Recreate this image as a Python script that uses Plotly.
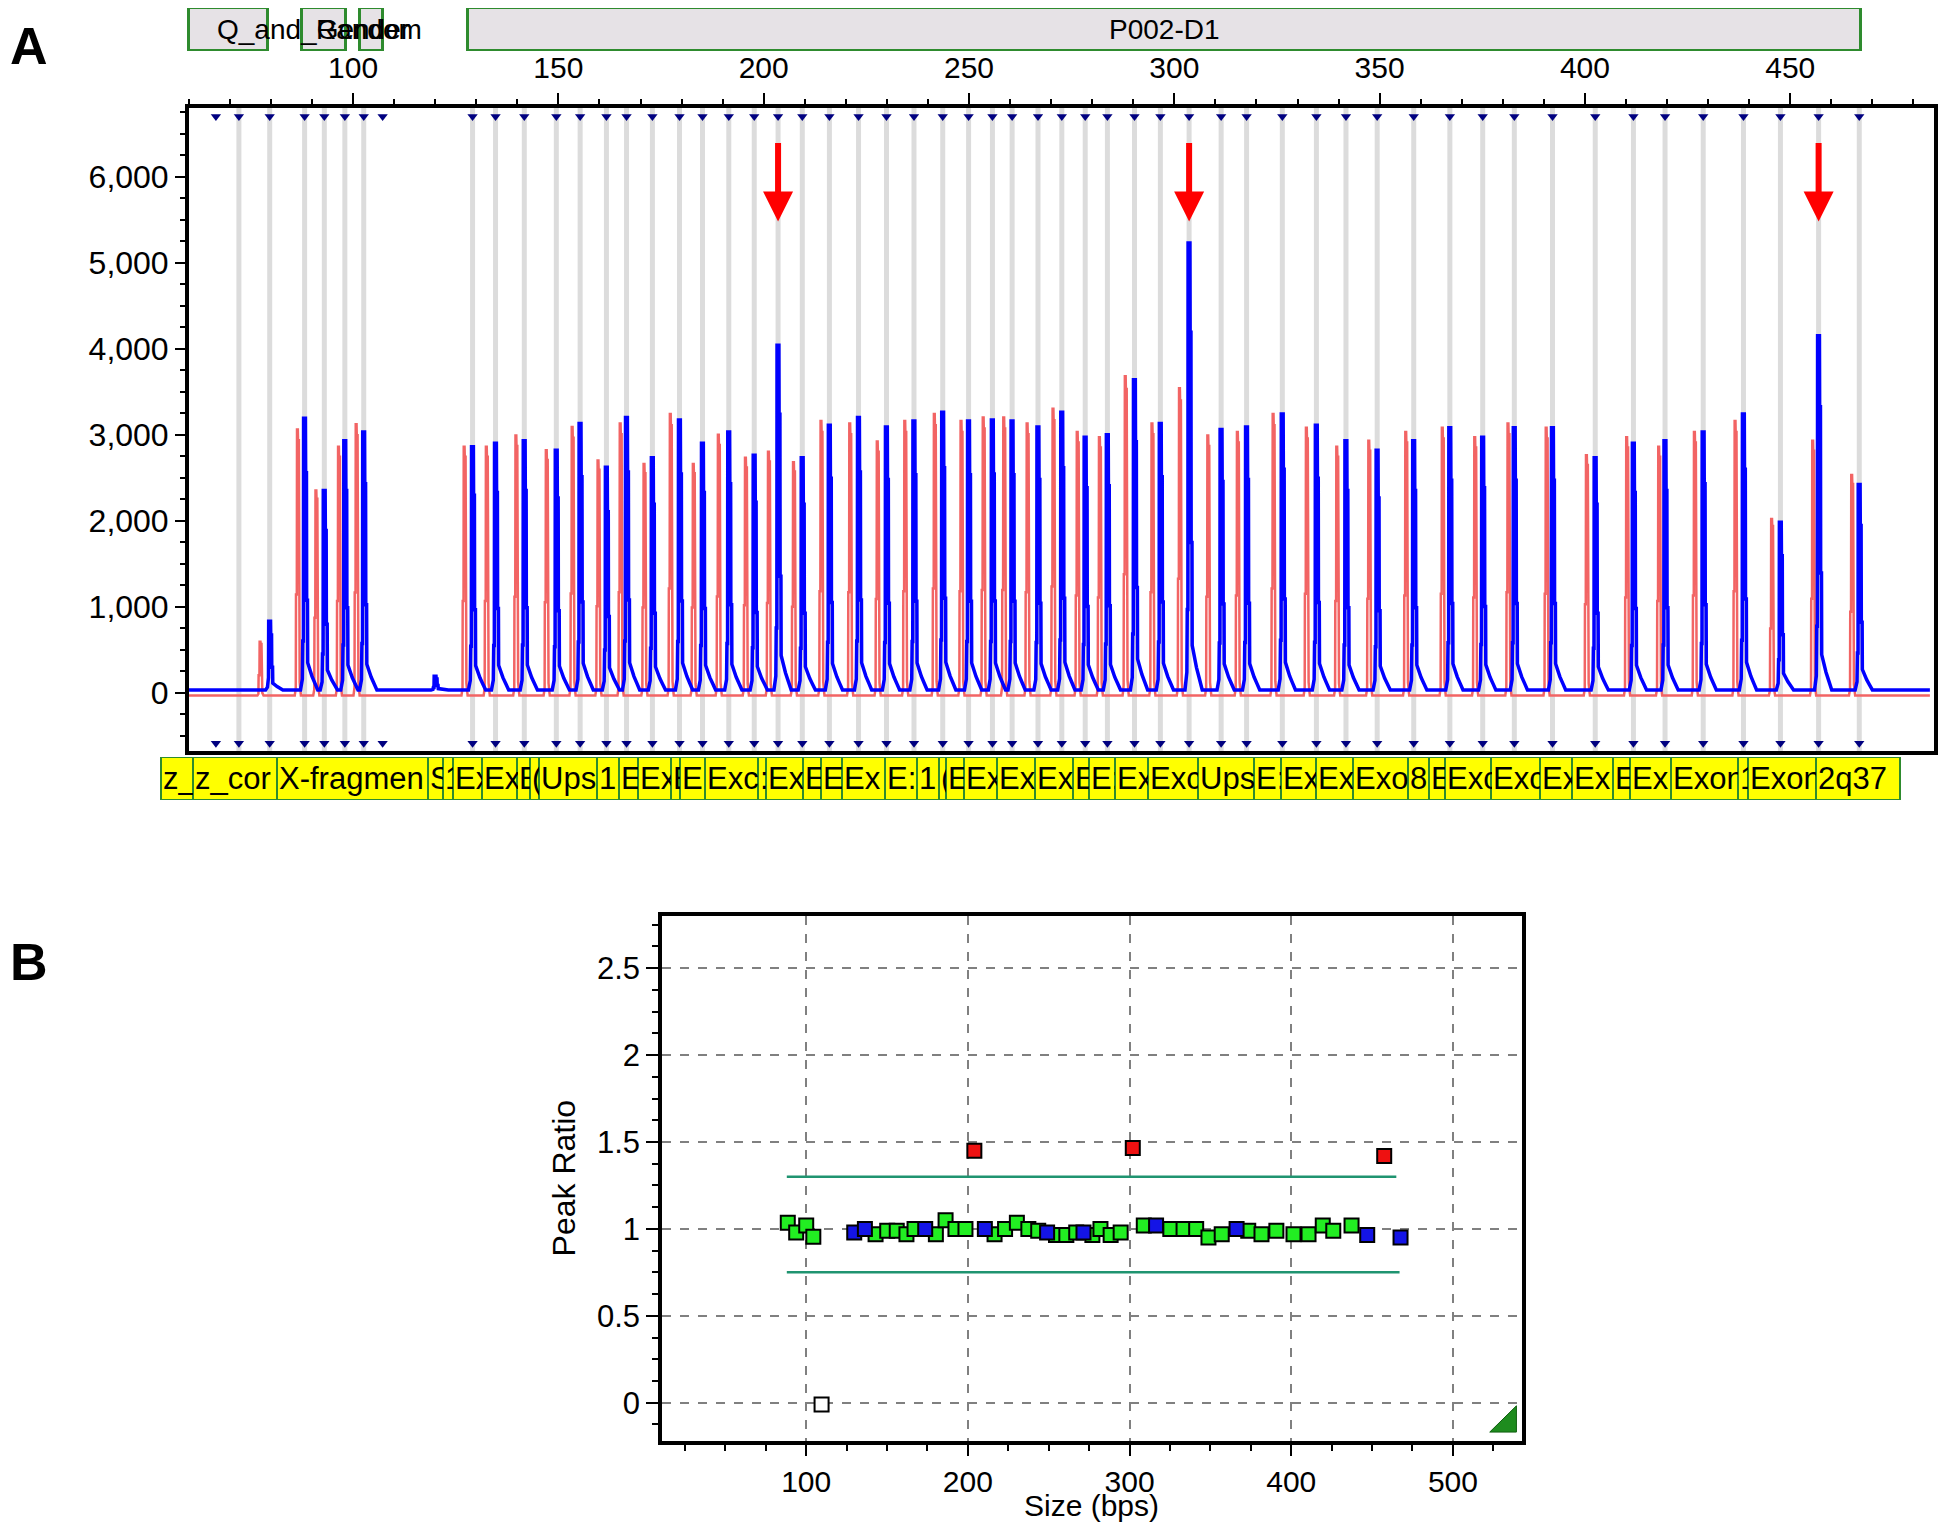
import plotly.graph_objects as go

W, H = 1946, 1531          # browser window
OFF = 8                    # default page margin around the figure
WF, HF = W - 2 * OFF, H - 2 * OFF
FONT = "Liberation Sans, Arial, sans-serif"

# ---------------- Panel A: electropherogram data (size in bp, height in RFU) ----------------
blue_bp = [79.7, 88.2, 93.0, 98.0, 102.6,
           129.1, 134.7, 141.7, 149.5, 155.3, 161.7, 166.6, 172.9, 179.5, 185.1, 191.5,
           197.7, 203.5, 209.4, 216.0, 223.1, 229.9, 236.6, 243.6, 249.9, 255.7, 260.5,
           266.8, 272.6, 278.3, 283.7, 290.3, 296.6, 303.6, 311.4, 317.6, 326.3,
           334.6, 341.8, 349.4, 358.3, 367.1, 375.1, 382.8, 392.1, 402.5, 411.8, 419.5,
           428.8, 438.6, 447.6, 456.9, 466.8]
blue_rfu = [830, 3190, 2350, 2930, 3030,
            2860, 2900, 2930, 2820, 3130, 2620, 3200, 2730, 3170, 2900, 3030,
            2760, 4040, 2730, 3110, 3200, 3090, 3160, 3260, 3160, 3170, 3160,
            3090, 3260, 2970, 3000, 3640, 3130, 5230, 3060, 3090, 3240,
            3110, 2930, 2820, 2930, 3080, 2970, 3080, 3080, 2730, 2900, 2930,
            3030, 3240, 1980, 4150, 2420]
red_bp = [77.4, 86.5, 91.0, 96.5, 100.8,
          127.1, 132.5, 139.7, 147.1, 153.4, 159.7, 165.1, 170.9, 177.3, 182.9, 189.0,
          195.6, 201.2, 207.3, 214.0, 221.0, 227.7, 234.4, 241.6, 248.1, 253.5, 258.5,
          264.2, 270.5, 276.4, 281.8, 288.1, 294.6, 301.3, 308.2, 315.4, 324.1,
          332.2, 339.6, 347.4, 356.4, 365.3, 373.2, 381.3, 390.6, 400.4, 410.2, 418.0,
          426.7, 436.6, 445.5, 455.5, 465.0]
red_rfu = [590, 3060, 2350, 2860, 3120,
           2860, 2860, 2990, 2820, 3090, 2700, 3130, 2660, 3240, 2660, 3000,
           2730, 2800, 2680, 3160, 3130, 2920, 3160, 3240, 3160, 3200, 3200,
           3130, 3300, 3030, 2970, 3680, 3130, 3540, 2990, 3030, 3240,
           3080, 2860, 2930, 3030, 3080, 2970, 3130, 3080, 2760, 2970, 2860,
           3030, 3160, 2020, 2930, 2530]
blue_extra_bp = [120.0]
blue_extra_rfu = [190]
extra_bin_bp = [72.2]            # bin with grey line but no peak
marker_only_bp = [66.6, 107.2]   # bin markers without grey line
flagged_bp = [203.5, 303.6, 456.9]
trace_start_bp, trace_end_bp = 60.0, 484.0

yA_ticks = [0, 1000, 2000, 3000, 4000, 5000, 6000]
xA_ticks = [100, 150, 200, 250, 300, 350, 400, 450]

# probe label strip (bottom, yellow)
probe_edges_bp = [53.19, 60.97, 81.41, 118.14, 121.79, 124.22, 131.28, 140.04, 143.20, 145.39,
                  159.50, 164.85, 169.47, 177.50, 179.69, 185.77, 198.67, 200.61, 209.61, 213.99,
                  219.10, 229.56, 237.35, 242.70, 244.40, 248.78, 256.81, 266.06, 275.30, 279.19,
                  285.52, 293.54, 305.71, 319.33, 325.90, 334.41, 343.41, 356.80, 361.91, 365.80,
                  377.23, 389.15, 396.94, 406.91, 411.05, 421.02, 437.32, 439.75, 456.30, 476.73]
probe_labels = ["z_", "z_cor", "X-fragmen", "S", "1", "Ex", "Ex", "E", "(", "Ups",
                "1", "E", "Ex", "E", "E", "Exc", ":", "Ex", "E", "E",
                "Ex", "E:", "1", "(", "E", "Ex", "Ex", "Ex", "E", "E:",
                "Ex", "Exc", "Ups", "E:", "Ex", "Ex", "Exo", "8", "E", "Exc",
                "Exc", "Ex", "Ex", "E", "Ex", "Exon", "1", "Exon", "2q37"]

# top strip (grey boxes)
top_start_bp = [60.0, 87.5, 101.6, 127.9]
top_end_bp = [79.3, 98.3, 107.4, 467.1]
top_text_main = "P002-D1"
top_text_a = "Q_and_Gender"
top_text_b = "Random"

# ---------------- Panel B: peak ratio data ----------------
green_size = [88.6, 93.8, 100.0, 104.4, 142.9, 150.1, 156.0, 162.0, 167.0, 180.2, 186.2, 192.3, 198.5,
              216.5, 223.0, 230.3, 237.4, 243.5, 254.5, 260.9, 267.0, 277.0, 282.0, 288.3, 294.5,
              308.8, 325.2, 333.4, 341.2, 348.8, 357.0, 373.4, 381.6, 390.8, 401.4, 410.7, 419.5, 426.0, 437.3]
green_ratio = [1.035, 0.98, 1.02, 0.955, 0.97, 0.99, 0.99, 0.97, 1.0, 0.97, 1.05, 1.0, 1.0,
               0.97, 1.0, 1.035, 1.0, 0.99, 0.965, 0.965, 0.98, 0.965, 1.0, 0.965, 0.98,
               1.02, 1.0, 1.0, 1.0, 0.95, 0.97, 0.99, 0.97, 0.99, 0.97, 0.97, 1.02, 0.99, 1.02]
blue_size = [129.7, 136.3, 173.6, 210.5, 249.0, 271.5, 316.4, 366.2, 447.0, 467.6]
blue_ratio = [0.98, 1.0, 1.0, 1.0, 0.98, 0.98, 1.02, 1.0, 0.965, 0.95]
red_size = [204.0, 302.0, 457.5]
red_ratio = [1.45, 1.465, 1.42]
empty_size = [109.5]
empty_ratio = [-0.01]
upper_limit, lower_limit = 1.3, 0.75
upper_span = [88.0, 465.0]
lower_span = [88.0, 467.0]
yB_ticks = [0, 0.5, 1, 1.5, 2, 2.5]
yB_text = ["0", "0.5", "1", "1.5", "2", "2.5"]
xB_ticks = [100, 200, 300, 400, 500]

# ---------------- layout geometry (window pixels) ----------------
LA, RA, TA, BA = 189, 1936, 108, 751
LB, RB, TB, BB = 663, 1524, 916, 1441
xA_range = [60, 485]
yA_range = [-680, 6800]
ppb = (RA - LA) / (xA_range[1] - xA_range[0])
x3_range = [xA_range[0] - (LA - OFF) / ppb, xA_range[1] + (OFF + WF - RA) / ppb]


def px(p):
    return min(max((p - OFF) / WF, 0), 1)


def py(p):
    return min(max(1 - (p - OFF) / HF, 0), 1)


def xd(a, b):
    return [px(a), px(b)]


def yd(top, bottom):
    return [py(bottom), py(top)]


# peak rendering templates (offset bp, fraction of height)
BLUE_SHAPE = [(-1.0, 0.0), (-0.55, 0.04), (-0.45, 0.18), (-0.3, 0.18), (-0.25, 1.0), (0.2, 1.0),
              (0.25, 0.8), (0.45, 0.8), (0.5, 0.33), (0.7, 0.33), (0.75, 0.1), (1.2, 0.075),
              (1.8, 0.05), (2.5, 0.025), (3.2, 0.0)]
RED_SHAPE = [(-0.7, 0.0), (-0.45, 0.03), (-0.4, 0.38), (-0.2, 0.38), (-0.15, 1.0), (0.05, 1.0),
             (0.1, 0.96), (0.3, 0.96), (0.35, 0.3), (0.5, 0.05), (0.8, 0.0)]


def build_trace(pos, hts, shape, base):
    xs, ys = [trace_start_bp], [base]
    for p, h in sorted(zip(pos, hts)):
        for dx, f in shape:
            xs.append(p + dx)
            ys.append(base + f * (h - base))
    xs.append(trace_end_bp)
    ys.append(base)
    return xs, ys


fig = go.Figure()

# grey bin lines
gx, gy = [], []
for b in extra_bin_bp + blue_bp:
    gx += [b, b, None]
    gy += [yA_range[0], yA_range[1], None]
fig.add_trace(go.Scatter(x=gx, y=gy, mode="lines", line=dict(color="#dcdcdc", width=5),
                         hoverinfo="skip", showlegend=False, xaxis="x", yaxis="y"))

rx, ry = build_trace(red_bp, red_rfu, RED_SHAPE, -35)
fig.add_trace(go.Scatter(x=rx, y=ry, mode="lines", line=dict(color="#f26464", width=2.5),
                         showlegend=False, xaxis="x", yaxis="y"))
bx, by = build_trace(blue_bp + blue_extra_bp, blue_rfu + blue_extra_rfu, BLUE_SHAPE, 30)
fig.add_trace(go.Scatter(x=bx, y=by, mode="lines", line=dict(color="#0000ff", width=3.5),
                         showlegend=False, xaxis="x", yaxis="y"))

# bin markers top / bottom
all_bins = sorted(marker_only_bp + extra_bin_bp + blue_bp)
fig.add_trace(go.Scatter(x=all_bins + all_bins, y=[6700] * len(all_bins) + [-590] * len(all_bins),
                         mode="markers", marker=dict(symbol="triangle-down", size=9, color="#000080"),
                         showlegend=False, xaxis="x", yaxis="y"))

# strips (bars on a hidden axis sharing the bp scale)
widths = [probe_edges_bp[i + 1] - probe_edges_bp[i] for i in range(len(probe_labels))]
fig.add_trace(go.Bar(y=[0] * len(widths), x=widths, base=probe_edges_bp[:-1], orientation="h",
                     width=1, marker=dict(color="#ffff00", line=dict(color="#2e8b2e", width=2)),
                     showlegend=False, xaxis="x3", yaxis="y3", hoverinfo="skip"))
fig.add_trace(go.Bar(y=[0] * len(top_start_bp), x=[e - s for s, e in zip(top_start_bp, top_end_bp)],
                     base=top_start_bp, orientation="h", width=1,
                     marker=dict(color="#e6e2e6", line=dict(color="#2e8b2e", width=3)),
                     showlegend=False, xaxis="x3", yaxis="y4", hoverinfo="skip"))

# ---------------- Panel B traces ----------------
fig.add_trace(go.Scatter(x=upper_span, y=[upper_limit] * 2, mode="lines",
                         line=dict(color="#1f9470", width=2.5), showlegend=False, xaxis="x2", yaxis="y2"))
fig.add_trace(go.Scatter(x=lower_span, y=[lower_limit] * 2, mode="lines",
                         line=dict(color="#1f9470", width=2.5), showlegend=False, xaxis="x2", yaxis="y2"))
for xs, ys, col in [(green_size, green_ratio, "#22ee22"), (blue_size, blue_ratio, "#1414e6"),
                    (red_size, red_ratio, "#ee1111"), (empty_size, empty_ratio, "#ffffff")]:
    fig.add_trace(go.Scatter(x=xs, y=ys, mode="markers",
                             marker=dict(symbol="square", size=14, color=col, line=dict(color="black", width=2)),
                             showlegend=False, xaxis="x2", yaxis="y2", cliponaxis=False))

TOP_FS = 28
ann = []
ymid_bot = sum(yd(757, 800)) / 2
for i, lab in enumerate(probe_labels):
    ann.append(dict(x=probe_edges_bp[i], y=ymid_bot, xref="x3", yref="paper",
                    text=lab, showarrow=False, xanchor="left", yanchor="middle", align="left",
                    width=max(widths[i] * ppb - 2, 2), borderpad=0, xshift=1,
                    font=dict(family=FONT, size=31, color="black")))
ymid_top = sum(yd(7, 51)) / 2
ann.append(dict(x=(top_start_bp[3] + top_end_bp[3]) / 2, y=ymid_top, xref="x3", yref="paper",
                xanchor="center", yanchor="middle",
                text=top_text_main, showarrow=False, font=dict(family=FONT, size=TOP_FS, color="black")))
ann.append(dict(x=top_start_bp[0] + 6.3, y=ymid_top, xref="x3", yref="paper", xanchor="left",
                yanchor="middle", text=top_text_a, showarrow=False,
                font=dict(family=FONT, size=TOP_FS, color="black")))
# second overlapping label starts where "Gender" starts (after "Q_and_")
ann.append(dict(x=top_start_bp[0] + 6.3, y=ymid_top, xref="x3", yref="paper", xanchor="left",
                yanchor="middle", text=top_text_b, showarrow=False, xshift=3.558 * TOP_FS,
                font=dict(family=FONT, size=TOP_FS, color="black")))
# flagged arrows
for b in flagged_bp:
    ann.append(dict(x=b, y=5480, xref="x", yref="y", ax=0, ay=-80, text="", showarrow=True,
                    arrowhead=2, arrowsize=1.0, arrowwidth=6, arrowcolor="#ff0000", standoff=0))
# panel letters
ann.append(dict(x=px(29), y=py(46), xref="paper", yref="paper", text="<b>A</b>", showarrow=False,
                xanchor="center", yanchor="middle", font=dict(family=FONT, size=52, color="black")))
ann.append(dict(x=px(29), y=py(962), xref="paper", yref="paper", text="<b>B</b>", showarrow=False,
                xanchor="center", yanchor="middle", font=dict(family=FONT, size=52, color="black")))
# panel B axis titles
ann.append(dict(x=px(565), y=py(1178), xref="paper", yref="paper", text="Peak Ratio", textangle=-90,
                xanchor="center", yanchor="middle",
                showarrow=False, font=dict(family=FONT, size=32, color="black")))
ann.append(dict(x=px(1093), y=py(1505), xref="paper", yref="paper", text="Size (bps)",
                xanchor="center", yanchor="middle",
                showarrow=False, font=dict(family=FONT, size=30, color="black")))

shapes = [dict(type="path", xref="x2 domain", yref="y2 domain",
               path="M 0.962 0.017 L 0.993 0.017 L 0.993 0.067 Z",
               fillcolor="#1e8c1e", line=dict(color="#0f5f0f", width=1))]

fig.update_layout(
    width=WF, height=HF, margin=dict(l=0, r=0, t=0, b=0),
    paper_bgcolor="white", plot_bgcolor="white", showlegend=False,
    annotations=ann, shapes=shapes, bargap=0,
    xaxis=dict(domain=xd(LA, RA), range=xA_range, side="top", anchor="y", tickvals=xA_ticks,
               ticks="outside", ticklen=11, tickwidth=1.5, tickcolor="black", ticklabelstandoff=3,
               minor=dict(dtick=10, tick0=0, ticks="outside", ticklen=5, tickcolor="black"),
               showline=True, mirror=True, linecolor="black", linewidth=3.5, showgrid=False,
               zeroline=False, tickfont=dict(family=FONT, size=30, color="black")),
    yaxis=dict(domain=yd(TA, BA), range=yA_range, anchor="x", tickvals=yA_ticks, tickformat=",d",
               ticks="outside", ticklen=10, tickwidth=1.5, tickcolor="black",
               minor=dict(dtick=250, tick0=0, ticks="outside", ticklen=5, tickcolor="black"),
               showline=True, mirror=True, linecolor="black", linewidth=3.5, showgrid=False,
               zeroline=False, tickfont=dict(family=FONT, size=32, color="black")),
    xaxis3=dict(domain=[0, 1], range=x3_range, anchor="y3", visible=False, fixedrange=True),
    yaxis3=dict(domain=yd(757, 800), range=[-0.5, 0.5], anchor="x3", visible=False),
    yaxis4=dict(domain=yd(7, 51), range=[-0.5, 0.5], anchor="x3", visible=False),
    xaxis2=dict(domain=xd(LB, RB), range=[11, 543], anchor="y2", tickvals=xB_ticks,
                ticks="outside", ticklen=11, tickwidth=1.5, tickcolor="black",
                minor=dict(dtick=25, tick0=0, ticks="outside", ticklen=6, tickcolor="black", showgrid=False),
                showline=True, mirror=True, linecolor="black", linewidth=4,
                showgrid=True, gridcolor="#808080", griddash="dash", gridwidth=2,
                zeroline=False, tickfont=dict(family=FONT, size=30, color="black")),
    yaxis2=dict(domain=yd(TB, BB), range=[-0.22, 2.8], anchor="x2", tickvals=yB_ticks, ticktext=yB_text,
                ticks="outside", ticklen=12, tickwidth=1.5, tickcolor="black",
                minor=dict(dtick=0.125, tick0=0, ticks="outside", ticklen=6, tickcolor="black", showgrid=False),
                showline=True, mirror=True, linecolor="black", linewidth=4,
                showgrid=True, gridcolor="#808080", griddash="dash", gridwidth=2,
                zeroline=False, tickfont=dict(family=FONT, size=31, color="black")),
)

fig.write_html("out.html")
